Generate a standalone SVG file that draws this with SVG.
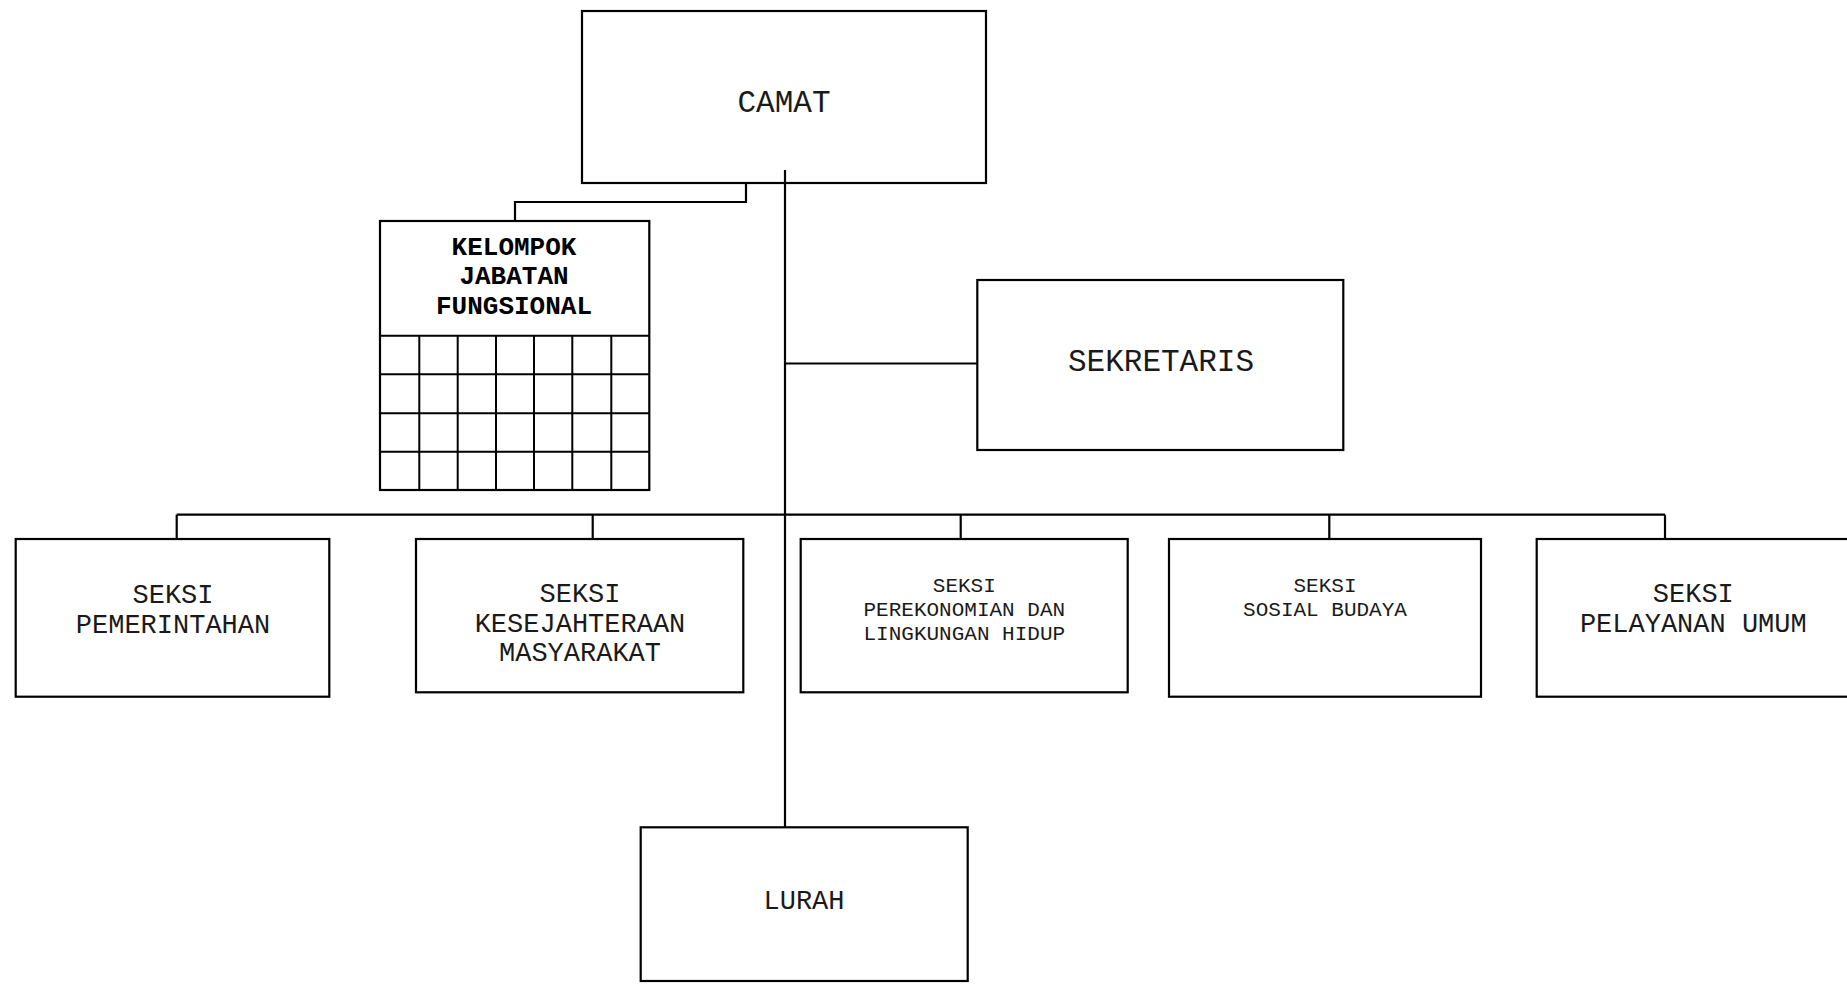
<svg xmlns="http://www.w3.org/2000/svg" width="1847" height="986" viewBox="0 0 1847 986">
  <style>
    .box { fill: #ffffff; stroke: #000000; stroke-width: 2.2; }
    .grid { fill: none; stroke: #000000; stroke-width: 2; }
    .wire { fill: none; stroke: #000000; stroke-width: 2.2; }
    .t { font-family: "Liberation Mono", "Courier New", monospace; fill: #1a1a1a; text-anchor: middle; }
    .big { font-size: 31px; }
    .mid { font-size: 27px; }
    .small { font-size: 21px; }
    .bold { font-weight: bold; font-size: 26px; fill: #000000; }
  </style>
  <rect width="1847" height="986" fill="#ffffff"/>

  <g id="camat">
    <rect class="box" x="582" y="11" width="404" height="172"/>
    <text class="t big" x="784" y="112">CAMAT</text>
  </g>

  <g id="kelompok-jabatan-fungsional">
    <rect class="box" x="380" y="221" width="269.3" height="269"/>
    <text class="t bold" x="514" y="255">KELOMPOK</text>
    <text class="t bold" x="514" y="284">JABATAN</text>
    <text class="t bold" x="514" y="313.5">FUNGSIONAL</text>
    <path class="grid" d="M380,335.7H649.3 M380,374.3H649.3 M380,413.3H649.3 M380,451.7H649.3
      M419.3,335.7V490 M457.7,335.7V490 M496,335.7V490 M534,335.7V490 M572.3,335.7V490 M611.3,335.7V490"/>
  </g>

  <g id="sekretaris">
    <rect class="box" x="977.3" y="280" width="366" height="170"/>
    <text class="t big" x="1161" y="370.7">SEKRETARIS</text>
  </g>

  <g id="seksi-pemerintahan">
    <rect class="box" x="15.7" y="539" width="313.6" height="157.7"/>
    <text class="t mid" x="173" y="603.3">SEKSI</text>
    <text class="t mid" x="173" y="633.3">PEMERINTAHAN</text>
  </g>

  <g id="seksi-kesejahteraan">
    <rect class="box" x="416" y="539" width="327.3" height="153.3"/>
    <text class="t mid" x="580" y="601.7">SEKSI</text>
    <text class="t mid" x="580" y="632">KESEJAHTERAAN</text>
    <text class="t mid" x="580" y="660.7">MASYARAKAT</text>
  </g>

  <g id="seksi-perekonomian">
    <rect class="box" x="800.7" y="539" width="327" height="153.3"/>
    <text class="t small" x="964.3" y="591.7">SEKSI</text>
    <text class="t small" x="964.3" y="616">PEREKONOMIAN DAN</text>
    <text class="t small" x="964.3" y="640">LINGKUNGAN HIDUP</text>
  </g>

  <g id="seksi-sosial-budaya">
    <rect class="box" x="1169" y="539" width="312" height="157.7"/>
    <text class="t small" x="1325" y="591.7">SEKSI</text>
    <text class="t small" x="1325" y="616">SOSIAL BUDAYA</text>
  </g>

  <g id="seksi-pelayanan-umum">
    <rect class="box" x="1536.7" y="539" width="330" height="157.7"/>
    <text class="t mid" x="1693.3" y="601.7">SEKSI</text>
    <text class="t mid" x="1693.3" y="632.3">PELAYANAN UMUM</text>
  </g>

  <g id="lurah">
    <rect class="box" x="640.7" y="827.3" width="327" height="153.7"/>
    <text class="t mid" x="804" y="909">LURAH</text>
  </g>

  <!-- connectors, drawn over the boxes so the trunk shows inside CAMAT -->
  <g id="connectors">
    <!-- CAMAT to functional group -->
    <polyline class="wire" points="746,183 746,202 515,202 515,221"/>
    <!-- main trunk -->
    <line class="wire" x1="785" y1="170" x2="785" y2="827"/>
    <!-- trunk to SEKRETARIS -->
    <line class="wire" x1="785" y1="363.5" x2="977" y2="363.5"/>
    <!-- section bus -->
    <line class="wire" x1="176.7" y1="514.7" x2="1665" y2="514.7"/>
    <line class="wire" x1="176.7" y1="514.7" x2="176.7" y2="539"/>
    <line class="wire" x1="592.7" y1="514.7" x2="592.7" y2="539"/>
    <line class="wire" x1="960.7" y1="514.7" x2="960.7" y2="539"/>
    <line class="wire" x1="1329.3" y1="514.7" x2="1329.3" y2="539"/>
    <line class="wire" x1="1665" y1="514.7" x2="1665" y2="539"/>
  </g>
</svg>
